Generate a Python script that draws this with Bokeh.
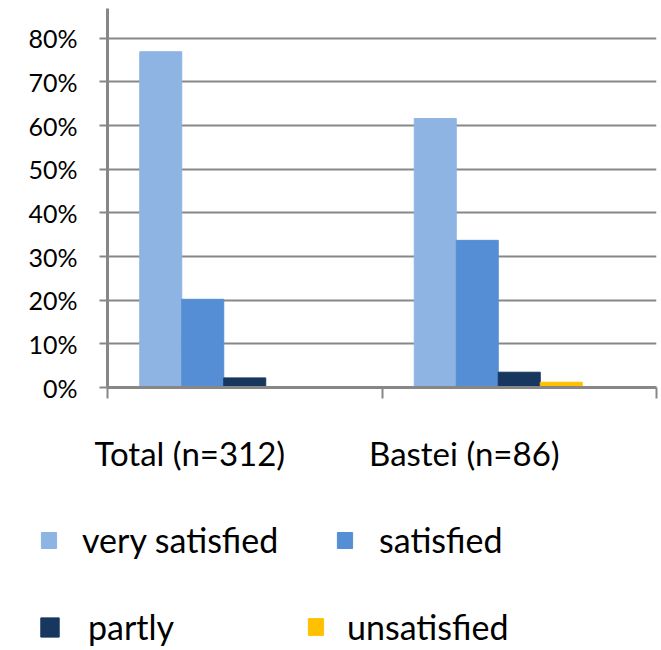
from bokeh.plotting import figure
from bokeh.models import (Range1d, FixedTicker, Legend, LegendItem,
                          NumeralTickFormatter, ColumnDataSource)
from bokeh.transform import dodge
from bokeh.embed import file_html
from bokeh.resources import INLINE

# ---- data ----
categories = ["Total (n=312)", "Bastei (n=86)"]
series = ["very satisfied", "satisfied", "partly", "unsatisfied"]
very_satisfied = [0.769, 0.616]
satisfied = [0.202, 0.337]
partly = [0.022, 0.035]
unsatisfied = [0.0, 0.012]
y_ticks = [0.0, 0.1, 0.2, 0.3, 0.4, 0.5, 0.6, 0.7, 0.8]
colors = ["#8EB4E3", "#558ED5", "#17375E", "#FFC000"]

FONT = "Lato"
GRAY = "#878787"

n = len(categories)
centers = [i + 0.5 for i in range(n)]  # category slot centers on a 0..n scale
src = ColumnDataSource(dict(cat=categories, xc=centers, s0=very_satisfied, s1=satisfied,
                            s2=partly, s3=unsatisfied))

p = figure(width=661, height=500, output_backend="svg", toolbar_location=None,
           x_range=Range1d(0, n), y_range=Range1d(0, 0.868),
           min_border_left=107, min_border_right=5, min_border_top=8,
           min_border_bottom=113)
p.outline_line_color = None
p.background_fill_color = "white"
p.xgrid.visible = False

# y axis
ya = p.yaxis[0]
ya.ticker = FixedTicker(ticks=y_ticks)
ya.formatter = NumeralTickFormatter(format="0%")
ya.major_label_text_font = FONT
ya.major_label_text_font_size = "25px"
ya.major_label_text_color = "black"
ya.axis_line_color = GRAY
ya.axis_line_width = 3
ya.major_tick_line_color = GRAY
ya.major_tick_line_width = 2
ya.major_tick_out = 8
ya.major_tick_in = 0
ya.minor_tick_line_color = None
ya.major_label_standoff = 22

p.ygrid[0].ticker = FixedTicker(ticks=y_ticks)
p.ygrid[0].grid_line_color = GRAY
p.ygrid[0].grid_line_width = 2

# x axis: category labels (set slightly left of the slot centre, as in the source),
# boundary tick marks drawn as minor ticks
label_pos = [c - 0.2 for c in centers]
xa = p.xaxis[0]
xa.ticker = FixedTicker(ticks=label_pos, minor_ticks=list(range(n + 1)))
xa.major_label_overrides = dict(zip(label_pos, categories))
xa.major_label_text_font = FONT
xa.major_label_text_font_size = "33px"
xa.major_label_text_color = "black"
xa.major_label_standoff = 34
xa.axis_line_color = GRAY
xa.axis_line_width = 3
xa.major_tick_line_color = None
xa.major_tick_out = 0
xa.major_tick_in = 0
xa.minor_tick_line_color = GRAY
xa.minor_tick_line_width = 2
xa.minor_tick_out = 11
xa.minor_tick_in = 0

# bars (five slots per category, the fifth unused)
w = 0.153
for j, name in enumerate(series):
    p.vbar(x=dodge("xc", (j - 2) * w), top="s%d" % j,
           width=w, source=src, fill_color=colors[j], line_color=colors[j])

# legend strip (irregular Excel-like placement)
p2 = figure(width=661, height=150, output_backend="svg", toolbar_location=None,
            x_range=Range1d(0, 1), y_range=Range1d(0, 1),
            x_axis_type=None, y_axis_type=None,
            min_border_left=0, min_border_right=0, min_border_top=0, min_border_bottom=0)
p2.outline_line_color = None
p2.xgrid.visible = False
p2.ygrid.visible = False

leg_pos = [(39, 90), (335, 90), (38, 3), (306, 3)]
glyph_sizes = [(19, 20), (19, 20), (23, 24), (19, 21)]
standoffs = [24, 25, 27, 22]
for j, name in enumerate(series):
    # legend-only renderer (hidden), same series data
    r = p2.vbar(x=dodge("xc", (j - 2) * w), top="s%d" % j, width=w, source=src,
                fill_color=colors[j], line_color=colors[j], visible=False)
    leg = Legend(items=[LegendItem(label=name, renderers=[r])],
                 location=leg_pos[j], border_line_color=None,
                 background_fill_alpha=0, padding=0, margin=0, spacing=0,
                 glyph_width=glyph_sizes[j][0], glyph_height=glyph_sizes[j][1],
                 label_standoff=standoffs[j], inactive_fill_alpha=0,
                 label_text_font=FONT, label_text_font_size="34px",
                 label_text_color="black")
    p2.add_layout(leg, "center")

open("out.html", "w").write(file_html((p, p2), INLINE))
